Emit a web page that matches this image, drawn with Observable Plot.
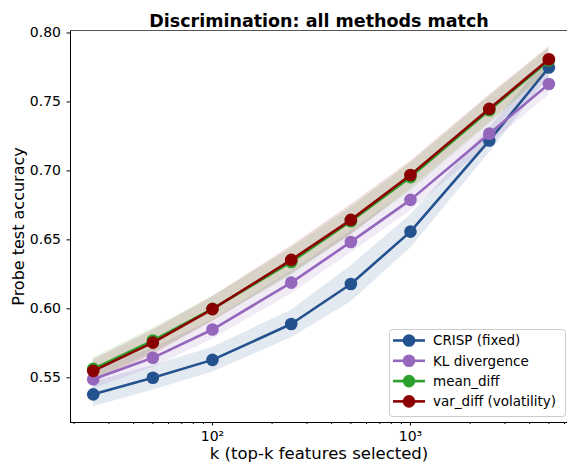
<!DOCTYPE html>
<html><head><meta charset="utf-8">
<script src="https://cdn.jsdelivr.net/npm/d3@7"></script>
<script src="https://cdn.jsdelivr.net/npm/@observablehq/plot@0.6"></script>
<style>body{margin:0;background:#fff;} #chart{width:567px;height:466px;}</style>
</head><body><div id="chart"></div>
<script>
const ks = [25, 50, 100, 250, 500, 1000, 2500, 5000];
const methods = ["CRISP (fixed)", "KL divergence", "mean_diff", "var_diff (volatility)"];
const colors = ["#24528f", "#9467bd", "#2ca02c", "#8b0000"];
const crisp    = [0.538, 0.550, 0.563, 0.589, 0.618, 0.656, 0.722, 0.775];
const crispErr = [0.009, 0.009, 0.009, 0.010, 0.013, 0.012, 0.009, 0.007];
const kl       = [0.549, 0.5645, 0.585, 0.619, 0.6485, 0.679, 0.727, 0.763];
const klErr    = [0.007, 0.007, 0.007, 0.008, 0.008, 0.008, 0.008, 0.008];
const meanDiff = [0.5565, 0.577, 0.600, 0.634, 0.6635, 0.6955, 0.744, 0.780];
const meanErr  = [0.008, 0.009, 0.009, 0.010, 0.010, 0.010, 0.010, 0.009];
const varDiff  = [0.555, 0.5755, 0.5998, 0.6355, 0.6645, 0.697, 0.745, 0.781];
const varErr   = [0.008, 0.009, 0.009, 0.010, 0.011, 0.010, 0.010, 0.009];
const yTicks = [0.55, 0.60, 0.65, 0.70, 0.75, 0.80];
const xMajor = [100, 1000];
const xMajorLabels = ["10²", "10³"];
const xMinor = [20, 30, 40, 50, 60, 70, 80, 90, 200, 300, 400, 500, 600, 700, 800, 900, 2000, 3000, 4000, 5000, 6000];

const values = [crisp, kl, meanDiff, varDiff];
const errs = [crispErr, klErr, meanErr, varErr];
const series = methods.map((m, i) => ({
  name: m, color: colors[i],
  rows: ks.map((k, j) => ({k, v: values[i][j], lo: values[i][j] - errs[i][j], hi: values[i][j] + errs[i][j]}))
}));

const marks = [];
series.forEach(s => marks.push(Plot.areaY(s.rows, {x: "k", y1: "lo", y2: "hi", fill: s.color, fillOpacity: 0.13})));
series.forEach(s => {
  marks.push(Plot.line(s.rows, {x: "k", y: "v", stroke: s.color, strokeWidth: 2.6}));
  marks.push(Plot.dot(s.rows, {x: "k", y: "v", fill: s.color, r: 6.3, stroke: "none"}));
});

const plot = Plot.plot({
  width: 567, height: 466,
  marginLeft: 70, marginRight: 0, marginTop: 30, marginBottom: 44,
  style: {fontFamily: "DejaVu Sans", fontSize: "14px", color: "#000", background: "#fff"},
  x: {type: "log", domain: [19.19, 6209]},
  y: {domain: [0.5176, 0.8018]},
  marks: [
    ...marks,
    Plot.ruleX([19.19], {stroke: "#000", strokeWidth: 1}),
    Plot.ruleY([0.5176], {stroke: "#000", strokeWidth: 1}),
    Plot.ruleY([0.8018], {stroke: "#555", strokeWidth: 1.2}),
    Plot.axisY(yTicks, {tickSize: 3.5, tickPadding: 6, tickFormat: d3.format(".2f"), label: null, fontSize: 14}),
    Plot.axisX(xMinor, {tickSize: 2, tickFormat: () => "", label: null}),
    Plot.axisX(xMajor, {tickSize: 3.5, tickPadding: 5, tickFormat: d => xMajorLabels[xMajor.indexOf(d)], label: null, fontSize: 14}),
    Plot.text(["Discrimination: all methods match"], {frameAnchor: "top", dy: -16, fontWeight: "bold", fontSize: 17.5}),
    Plot.text(["Probe test accuracy"], {frameAnchor: "left", textAnchor: "middle", dx: -52, rotate: -90, fontSize: 16}),
    Plot.text(["k (top-k features selected)"], {frameAnchor: "bottom", dy: 36, fontSize: 16.5})
  ]
});
document.getElementById("chart").appendChild(plot);

// Legend
const svg = d3.select(plot);
const lg = svg.append("g").attr("transform", "translate(389,329)").attr("font-family", "DejaVu Sans").attr("font-size", 13.5).attr("text-anchor", "start");
lg.append("rect").attr("x", 0.5).attr("y", 0.5).attr("width", 176).attr("height", 87).attr("rx", 3)
  .attr("fill", "#fff").attr("fill-opacity", 0.85).attr("stroke", "#cccccc").attr("stroke-width", 1);
series.forEach((s, i) => {
  const y = 11.5 + i * 20.3;
  lg.append("line").attr("x1", 4).attr("x2", 36).attr("y1", y).attr("y2", y).attr("stroke", s.color).attr("stroke-width", 2.6);
  lg.append("circle").attr("cx", 20).attr("cy", y).attr("r", 6.3).attr("fill", s.color);
  lg.append("text").attr("x", 44).attr("y", y).attr("dy", "0.35em").attr("fill", "#000").text(s.name);
});
</script>
</body></html>
